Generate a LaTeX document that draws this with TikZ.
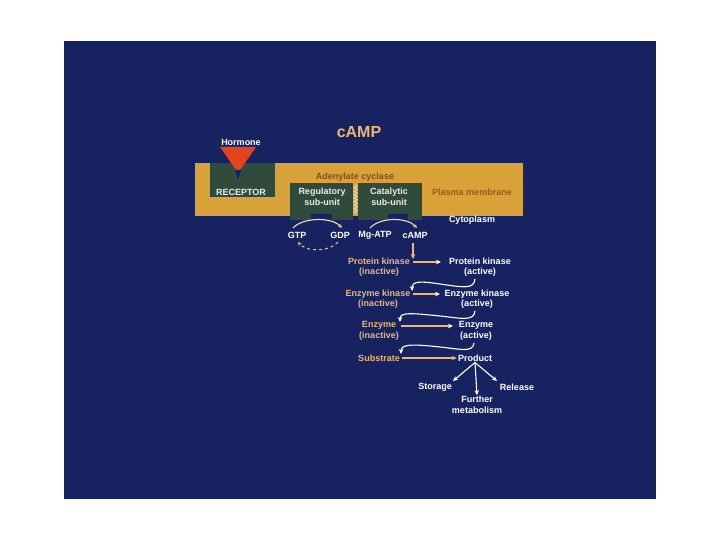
\documentclass[tikz,border=0pt]{standalone}
\usepackage{fontspec}
\setmainfont{Liberation Sans}
\usepackage{tikz}
\usetikzlibrary{positioning}
\usetikzlibrary{arrows.meta, decorations.pathmorphing}
\usepackage{xcolor}
\definecolor{navy}{HTML}{172361}
\definecolor{gold}{HTML}{D9A238}
\definecolor{mgreen}{HTML}{2F4B3B}
\definecolor{orng}{HTML}{E9B877}
\definecolor{brwn}{HTML}{8A4E1E}
\definecolor{hred}{HTML}{E2441E}

\begin{document}
\begin{tikzpicture}[x=1pt, y=-1pt, font=\bfseries\fontsize{9}{10.5}\selectfont,
  txt/.style = {text=white, align=center, inner sep=1pt},
  inact/.style = {text=orng, align=center, inner sep=1pt},
  mem/.style = {text=brwn, inner sep=1pt},
  arr/.style = {white, line width=1.1pt, -{Stealth[length=5pt,width=4.5pt]}},
  oarr/.style = {orng, line width=1.1pt, -{Stealth[length=5pt,width=4.5pt]}}]
\useasboundingbox (0,0) rectangle (720,540);
\fill[white] (0,0) rectangle (720,540);
\fill[navy] (64,41) rectangle (656,499);
% membrane
\fill[gold] (195,163) rectangle (523,216);
\fill[mgreen] (210,163) rectangle (275,197);
\fill[mgreen] (290,183) rectangle (353,220);
\fill[mgreen] (358,183) rectangle (422,220);
\fill[navy] (311,214) rectangle (332,220);
\fill[navy] (388,214) rectangle (408,220);
\draw[orng!60!white, line width=1pt, decorate, decoration={zigzag, amplitude=1.5pt, segment length=3.5pt}] (355.5,185) -- (355.5,214);
\fill[hred] (220,147) -- (256,147) -- (238,173) -- cycle;
\fill[navy] (235,170) -- (241,170) -- (238,180) -- cycle;

\node[txt] (hormone) at (241,142) {Hormone};
\node[text=orng, font=\bfseries\fontsize{16}{18}\selectfont] (title) at (359,132) {cAMP};
\node[mem] (adc) at (355,177) {Adenylate cyclase};
\node[txt, text=white!85!gray] (rec) at (241,192) {RECEPTOR};
\node[txt, text=white!85!gray] (reg) at (322,197) {Regulatory\\sub-unit};
\node[txt, text=white!85!gray] (cat) at (389,197) {Catalytic\\sub-unit};
\node[mem, text=brwn!80!orange] (pm) at (472,192) {Plasma membrane};
\node[txt] (cyto) at (472,220) {Cytoplasm};

% nucleotides
\node[txt] (gtp) at (297,235) {GTP};
\node[txt] (gdp) at (340,235) {GDP};
\node[txt] (atp) at (375,235) {Mg-ATP};
\node[txt] (camp) at (415,235) {cAMP};
\draw[oarr, orng!50!white, -{Stealth[length=4pt,width=4pt,orng]}] (293,228) .. controls (303,217) and (332,217) .. (342,228);
\draw[oarr, dashed, -{Stealth[length=4pt,width=4pt]}] (338,242) .. controls (330,252) and (306,252) .. (298,242);
\draw[oarr, orng!50!white, -{Stealth[length=4pt,width=4pt,orng]}] (370,228) .. controls (380,217) and (407,217) .. (417,228);

% cascade
\node[inact] (pki) at (379,267) {Protein kinase\\(inactive)};
\node[txt] (pka) at (480,267) {Protein kinase\\(active)};
\node[inact] (eki) at (378,299) {Enzyme kinase\\(inactive)};
\node[txt] (eka) at (477,299) {Enzyme kinase\\(active)};
\node[inact] (ei) at (379,331) {Enzyme\\(inactive)};
\node[txt] (ea) at (476,331) {Enzyme\\(active)};
\node[inact] (sub) at (379,358) {Substrate};
\node[txt] (prod) at (475,358) {Product};
\node[txt] (stor) at (435,387) {Storage};
\node[txt] (rel) at (517,387) {Release};
\node[txt] (fur) at (477,405) {Further\\metabolism};

\path (413,243) edge [oarr] (413,259);
\path (413,262) edge [oarr, -{Stealth[length=5pt,width=4.5pt,white]}] (441,262);
\path (413,294) edge [oarr, -{Stealth[length=5pt,width=4.5pt,white]}] (440,294);
\path (401,326) edge [oarr, -{Stealth[length=5pt,width=4.5pt,white]}] (453,326);
\path (402,358) edge [oarr] (sub -| prod.west);
\draw[arr] (475,279) .. controls (474,290) and (462,287) .. (440,284) .. controls (420,281) and (412,281) .. (412,291);
\draw[arr] (475,311) .. controls (474,322) and (460,318) .. (440,316) .. controls (410,313) and (400,312) .. (400,322);
\draw[arr] (474,343) .. controls (473,353) and (460,349) .. (440,347) .. controls (412,344) and (401,344) .. (401,354);
\path (prod.south) edge [arr] (453,381);
\path (prod.south) edge [arr] (fur.north);
\path (prod.south) edge [arr] (497,381);
\end{tikzpicture}
\end{document}
